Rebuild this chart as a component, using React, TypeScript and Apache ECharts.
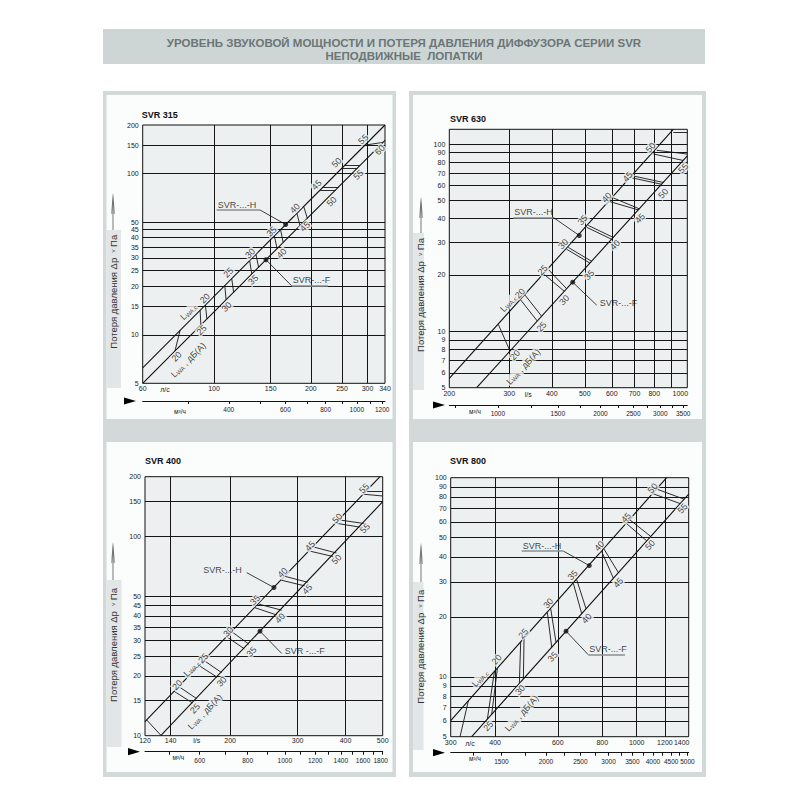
import React, { useEffect, useRef } from "react";
import * as echarts from "echarts";

type Pt = [number, number];
type Seg = [Pt, Pt];
type Lbl = [number, number, string];

// ---------------- SVR 315 ----------------
const svr315FlowRange: Pt = [60, 340];
const svr315PressureRange: Pt = [5, 200];
const svr315M3hRange: Pt = [216, 1224];
const svr315FlowLabels = [60, 100, 150, 200, 250, 300, 340];
const svr315FlowGrid = [100, 150, 200, 250, 300];
const svr315PressureLabels = [5, 10, 15, 20, 25, 30, 35, 40, 45, 50, 100, 150, 200];
const svr315PressureGrid = [10, 15, 20, 25, 30, 35, 40, 45, 50, 100, 150];
const svr315M3hLabels = [400, 600, 800, 1000, 1200];
const svr315M3hTicks = [300, 400, 500, 600, 700, 800, 900, 1000, 1100, 1200];
const svr315LineH: Pt[] = [[60, 6.23], [340, 200]];
const svr315LineF: Pt[] = [[60, 5], [340, 160.6]];
const svr315Hatches: Seg[] = [
  [[78.4, 10.63], [75.6, 7.94]],
  [[90.5, 14.17], [91, 11.5]], [[94, 15.29], [95, 12.53]],
  [[108, 20.18], [109, 16.5]], [[113.5, 22.29], [115, 18.37]],
  [[129, 28.79], [131, 23.83]], [[135, 31.53], [137.5, 26.26]],
  [[154, 41.03], [157, 34.24]], [[161, 44.85], [164, 37.36]],
  [[181, 56.68], [185, 47.53]], [[190, 62.46], [195, 52.81]],
  [[213.7, 79], [238.5, 79]], [[218.4, 82.5], [243.7, 82.5]],
  [[249.9, 108], [278.9, 108]], [[254.5, 112], [284, 112]],
  [[294.4, 150], [328.6, 150]], [[294.4, 150], [335, 156]],
];
const svr315LabelsH: Lbl[] = [
  [93.7, 16.8, "20"], [110.8, 24.3, "25"], [129.4, 32.0, "30"], [151, 43.6, "35"],
  [178.5, 60.9, "40"], [208.5, 84.9, "45"], [240.6, 116.8, "50"], [291, 163, "55"],
];
const svr315LabelsF: Lbl[] = [
  [76.5, 7.31, "20"], [91.5, 10.7, "25"], [109.5, 14.9, "30"], [132.4, 21.9, "35"],
  [162.3, 32.0, "40"], [191.8, 46.8, "45"], [232, 66.9, "50"], [280.9, 98, "55"], [328, 140, "60"],
];
const svr315LwcPos: Pt = [83.2, 13.9];
const svr315LwaPos: Pt = [83.2, 6.97];
const svr315Dots: Pt[] = [[167, 48.3], [145, 29.2]];
const svr315Leaders: Seg[] = [[[139, 59.4], [167, 48.3]], [[145, 29.2], [174.3, 20.1]]];
const svr315Underlines: Seg[] = [[[101.9, 59.4], [139, 59.4]], [[174.3, 20.1], [226, 20.1]]];
const svr315CalloutTexts: Lbl[] = [[101.9, 59.4, "SVR-...-H"], [174.3, 20.1, "SVR-...-F"]];

// ---------------- SVR 630 ----------------
const svr630FlowRange: Pt = [200, 1000];
const svr630PressureRange: Pt = [5, 120];
const svr630M3hRange: Pt = [720, 3600];
const svr630FlowLabels = [200, 300, 400, 500, 600, 700, 800, 900, 1000];
const svr630FlowGrid = [300, 400, 500, 600, 700, 800, 900];
const svr630PressureLabels = [5, 6, 7, 8, 9, 10, 20, 30, 40, 50, 60, 70, 80, 90, 100];
const svr630PressureGrid = [6, 7, 8, 9, 10, 20, 30, 40, 50, 60, 70, 80, 90, 100];
const svr630M3hLabels = [1000, 1500, 2000, 2500, 3000, 3500];
const svr630M3hTicks = [750, 1000, 1250, 1500, 1750, 2000, 2250, 2500, 2750, 3000, 3250, 3500];
const svr630LineH: Pt[] = [[200, 5.61], [909.6, 120]];
const svr630LineF: Pt[] = [[240.7, 5], [1000, 86.6]];
const svr630Hatches: Seg[] = [
  [[278.6, 10.89], [301.5, 7.85]],
  [[324, 14.72], [362.7, 11.35]], [[333.7, 15.62], [373.5, 12.04]],
  [[379.4, 20.19], [435.4, 16.36]], [[390.7, 21.41], [442.3, 16.88]],
  [[442.3, 27.44], [517.8, 23.14]], [[447.3, 28.06], [523.7, 23.67]],
  [[506.3, 35.95], [599.6, 31.03]], [[512, 36.77], [606.4, 31.74]],
  [[592.9, 49.3], [718, 44.5]], [[606.4, 51.57], [723, 45.11]],
  [[686.5, 66.1], [840.8, 61.01]], [[694.2, 67.59], [850.4, 62.41]],
  [[794.8, 88.6], [973.4, 81.77]], [[812.9, 92.68], [1000, 88.5]],
  [[909.7, 116.1], [1000, 116]],
];
const svr630LabelsH: Lbl[] = [
  [322.6, 15.95, "20"], [376, 21.25, "25"], [432.4, 29.25, "30"], [492.8, 39.3, "35"],
  [579.7, 51.9, "40"], [668, 66.9, "45"], [780.4, 96, "50"],
];
const svr630LabelsF: Lbl[] = [
  [311.9, 7.47, "20"], [373.5, 10.6, "25"], [435.4, 14.7, "30"], [515.6, 20.0, "35"],
  [613.3, 28.9, "40"], [726.2, 40.1, "45"], [850.4, 54.5, "50"], [973.4, 74.2, "55"],
];
const svr630LwcPos: Pt = [298, 14.1];
const svr630LwaPos: Pt = [330, 6.47];
const svr630Dots: Pt[] = [[481.7, 32.5], [460.7, 18.3]];
const svr630Leaders: Seg[] = [[[404, 40.6], [481.7, 32.5]], [[460.7, 18.3], [541.9, 13.8]]];
const svr630Underlines: Seg[] = [[[308.3, 40.6], [404, 40.6]]];
const svr630CalloutTexts: Lbl[] = [[308.3, 40.6, "SVR-...-H"], [541.9, 13.8, "SVR-...-F"]];

// ---------------- SVR 400 ----------------
const svr400FlowRange: Pt = [120, 500];
const svr400PressureRange: Pt = [10, 200];
const svr400M3hRange: Pt = [432, 1800];
const svr400FlowLabels = [120, 140, 200, 300, 400, 500];
const svr400FlowGrid = [140, 200, 300, 400];
const svr400PressureLabels = [10, 15, 20, 25, 30, 35, 40, 45, 50, 100, 150, 200];
const svr400PressureGrid = [15, 20, 25, 30, 35, 40, 45, 50, 100, 150];
const svr400M3hLabels = [600, 800, 1000, 1200, 1400, 1600, 1800];
const svr400M3hTicks = [500, 600, 700, 800, 900, 1000, 1100, 1200, 1300, 1400, 1500, 1600, 1700, 1800];
const svr400LineH: Pt[] = [[120, 11.76], [492, 200]];
const svr400LineF: Pt[] = [[131.9, 10], [500, 149.7]];
const svr400Hatches: Seg[] = [
  [[121.2, 12.0], [132.1, 10.03]],
  [[143, 16.7], [159.5, 14.62]], [[147, 17.65], [163.5, 15.37]],
  [[166, 22.5], [185, 19.67]], [[171, 23.88], [190, 20.75]],
  [[196, 31.4], [218, 27.3]], [[202, 33.3], [224, 28.8]],
  [[237, 45.87], [272.6, 42.71]], [[232, 43.96], [265, 40.36]],
  [[278.1, 63.16], [320, 58.86]], [[272, 60.42], [313.6, 56.53]],
  [[329.7, 88.77], [379.3, 82.69]], [[322, 84.67], [371.7, 79.41]],
  [[385.4, 121.3], [449.6, 116.2]], [[378, 116.7], [440, 111.3]],
  [[454.1, 168.4], [500, 168.4]], [[447, 163.2], [500, 160]],
];
const svr400LabelsH: Lbl[] = [
  [145.7, 17.98, "20"], [170.3, 24.5, "25"], [197.9, 33.3, "30"], [232.3, 48.0, "35"],
  [274.2, 65.9, "40"], [323.1, 89.7, "45"], [380.8, 123.5, "50"], [446.9, 174.8, "55"],
];
const svr400LabelsF: Lbl[] = [
  [162, 13.7, "25"], [190.2, 18.7, "30"], [227.7, 26.4, "35"], [269.9, 38.9, "40"],
  [318, 54.4, "45"], [379.3, 76.9, "50"], [449.6, 110, "55"],
];
const svr400LwcPos: Pt = [158.8, 21.8];
const svr400LwaPos: Pt = [172, 13.2];
const svr400Dots: Pt[] = [[260.3, 55.5], [239.3, 33.5]];
const svr400Leaders: Seg[] = [[[221, 65.9], [260.3, 55.5]], [[239.3, 33.5], [272.6, 25.9]]];
const svr400Underlines: Seg[] = [];
const svr400CalloutTexts: Lbl[] = [[221, 65.9, "SVR-...-H"], [272.6, 25.9, "SVR -...-F"]];

// ---------------- SVR 800 ----------------
const svr800FlowRange: Pt = [300, 1400];
const svr800PressureRange: Pt = [5, 100];
const svr800M3hRange: Pt = [1080, 5040];
const svr800FlowLabels = [300, 400, 600, 800, 1000, 1200, 1400];
const svr800FlowGrid = [400, 600, 800, 1000, 1200];
const svr800PressureLabels = [5, 6, 7, 8, 9, 10, 20, 30, 40, 50, 60, 70, 80, 90, 100];
const svr800PressureGrid = [6, 7, 8, 9, 10, 20, 30, 40, 50, 60, 70, 80, 90];
const svr800M3hLabels = [1500, 2000, 2500, 3000, 3500, 4000, 4500, 5000];
const svr800M3hTicks = [1250, 1500, 1750, 2000, 2250, 2500, 2750, 3000, 3250, 3500, 3750, 4000, 4250, 4500, 4750, 5000];
const svr800LineH: Pt[] = [[300, 6.02], [1214, 100]];
const svr800LineF: Pt[] = [[343.7, 5], [1400, 82.8]];
const svr800Hatches: Seg[] = [
  [[336.3, 7.57], [318.7, 5]],
  [[398, 10.6], [380.3, 6.12]], [[405.8, 11.0], [391.2, 6.48]],
  [[471.9, 14.9], [467.9, 9.27]], [[482.2, 15.55], [480.2, 9.76]],
  [[560.8, 21.04], [576.8, 14.08]], [[573.1, 21.97], [593.2, 14.89]],
  [[663.6, 29.46], [700.4, 20.76]], [[678.1, 30.76], [720.3, 21.96]],
  [[797.2, 42.51], [859.7, 31.28]], [[809.3, 43.81], [888, 33.38]],
  [[937.2, 58.75], [1066.7, 48.16]], [[957.7, 61.35], [1094.7, 50.72]],
  [[1113.8, 82.98], [1323.6, 74.15]], [[1143, 87.39], [1358, 78.06]],
];
const svr800LabelsH: Lbl[] = [
  [404, 12.2, "20"], [480.2, 16.5, "25"], [564.5, 23.4, "30"], [660.7, 32.4, "35"],
  [785.2, 45.4, "40"], [933.2, 63, "45"], [1109, 88.4, "50"],
];
const svr800LabelsF: Lbl[] = [
  [382.8, 5.65, "25"], [469.9, 8.58, "30"], [580.6, 12.6, "35"], [723.4, 19.6, "40"],
  [888, 29.7, "45"], [1090, 45.9, "50"], [1346, 70.1, "55"],
];
const svr800LwcPos: Pt = [362.7, 9.8];
const svr800LwaPos: Pt = [475, 6.55];
const svr800Dots: Pt[] = [[735.7, 36.2], [632.8, 16.95]];
const svr800Leaders: Seg[] = [[[621.7, 42.8], [735.7, 36.2]], [[632.8, 16.95], [731, 12.9]]];
const svr800Underlines: Seg[] = [[[475, 42.8], [621.7, 42.8]], [[731, 12.9], [926.9, 12.9]]];
const svr800CalloutTexts: Lbl[] = [[475, 42.8, "SVR-...-H"], [731, 12.9, "SVR-...-F"]];

const titleLine1 = "УРОВЕНЬ ЗВУКОВОЙ МОЩНОСТИ И ПОТЕРЯ ДАВЛЕНИЯ ДИФФУЗОРА СЕРИИ SVR";
const titleLine2 = "НЕПОДВИЖНЫЕ  ЛОПАТКИ";
const panelNames = ["SVR 315", "SVR 630", "SVR 400", "SVR 800"];
const flowUnits = ["л/с", "l/s", "l/s", "л/с"];
const m3hUnit = "м³/ч";
const yTitle = "Потеря давления Δр  {s|v} Па";

// ---------------- styling / layout ----------------
const FONT = "Liberation Sans";
const PLOT_BG = "#edf0f0";
const FRAME = "#d3d9d9";
const INNER = "#fbfcfc";

const panels = [
  {
    flow: svr315FlowRange, pres: svr315PressureRange, m3: svr315M3hRange,
    flowLabels: svr315FlowLabels, flowGrid: svr315FlowGrid, presLabels: svr315PressureLabels,
    presGrid: svr315PressureGrid, m3Labels: svr315M3hLabels, m3Ticks: svr315M3hTicks,
    lineH: svr315LineH, lineF: svr315LineF, hatches: svr315Hatches, labelsH: svr315LabelsH,
    labelsF: svr315LabelsF, lwc: svr315LwcPos, lwa: svr315LwaPos, dots: svr315Dots,
    leaders: svr315Leaders, underlines: svr315Underlines, callouts: svr315CalloutTexts,
  },
  {
    flow: svr630FlowRange, pres: svr630PressureRange, m3: svr630M3hRange,
    flowLabels: svr630FlowLabels, flowGrid: svr630FlowGrid, presLabels: svr630PressureLabels,
    presGrid: svr630PressureGrid, m3Labels: svr630M3hLabels, m3Ticks: svr630M3hTicks,
    lineH: svr630LineH, lineF: svr630LineF, hatches: svr630Hatches, labelsH: svr630LabelsH,
    labelsF: svr630LabelsF, lwc: svr630LwcPos, lwa: svr630LwaPos, dots: svr630Dots,
    leaders: svr630Leaders, underlines: svr630Underlines, callouts: svr630CalloutTexts,
  },
  {
    flow: svr400FlowRange, pres: svr400PressureRange, m3: svr400M3hRange,
    flowLabels: svr400FlowLabels, flowGrid: svr400FlowGrid, presLabels: svr400PressureLabels,
    presGrid: svr400PressureGrid, m3Labels: svr400M3hLabels, m3Ticks: svr400M3hTicks,
    lineH: svr400LineH, lineF: svr400LineF, hatches: svr400Hatches, labelsH: svr400LabelsH,
    labelsF: svr400LabelsF, lwc: svr400LwcPos, lwa: svr400LwaPos, dots: svr400Dots,
    leaders: svr400Leaders, underlines: svr400Underlines, callouts: svr400CalloutTexts,
  },
  {
    flow: svr800FlowRange, pres: svr800PressureRange, m3: svr800M3hRange,
    flowLabels: svr800FlowLabels, flowGrid: svr800FlowGrid, presLabels: svr800PressureLabels,
    presGrid: svr800PressureGrid, m3Labels: svr800M3hLabels, m3Ticks: svr800M3hTicks,
    lineH: svr800LineH, lineF: svr800LineF, hatches: svr800Hatches, labelsH: svr800LabelsH,
    labelsF: svr800LabelsF, lwc: svr800LwcPos, lwa: svr800LwaPos, dots: svr800Dots,
    leaders: svr800Leaders, underlines: svr800Underlines, callouts: svr800CalloutTexts,
  },
];

const layouts = [
  {
    grid: { left: 142.7, top: 125, width: 242.3, height: 258.3 }, m3Offset: 17.7, xMargin: 2,
    rotate: 45, lastShift: 0, m3LastShift: 0,
    calloutPos: ["above", "above"],
    title: [141.7, 115], yBox: [106.5, 230, 14.5, 158], yText: [113, 291.7], arrowX: 113, arrowTop: 193,
    tri: [124, 401], unitFlow: [165, 389], unitM3: [180, 411.7],
  },
  {
    grid: { left: 449.3, top: 129.3, width: 238, height: 258.4 }, m3Offset: 17.3, xMargin: 2.5,
    rotate: 47, lastShift: 7, m3LastShift: 0,
    calloutPos: ["above", "right"],
    title: [450, 119.3], yBox: [413, 233, 11, 157], yText: [420, 295], arrowX: 421, arrowTop: 197,
    tri: [433, 405], unitFlow: [528.3, 394.3], unitM3: [475, 411.7],
  },
  {
    grid: { left: 145, top: 476.7, width: 237.7, height: 259 }, m3Offset: 16, xMargin: 1.5,
    rotate: 46, lastShift: 0, m3LastShift: 2,
    calloutPos: ["left", "right"],
    title: [145, 460.7], yBox: [106.5, 580, 15, 167], yText: [113.3, 645], arrowX: 113, arrowTop: 542,
    tri: [128, 751.7], unitFlow: [196.7, 740.7], unitM3: [178.3, 757.3],
  },
  {
    grid: { left: 450.7, top: 477.7, width: 238, height: 259 }, m3Offset: 16, xMargin: 2.5,
    rotate: 48, lastShift: 7, m3LastShift: 0,
    calloutPos: ["above", "above"],
    title: [450, 460.7], yBox: [413, 582, 10.5, 168], yText: [420, 646.7], arrowX: 421, arrowTop: 543,
    tri: [433, 752.7], unitFlow: [470, 743.3], unitM3: [475, 758.3],
  },
];

const fmt = (v: number) => String(Math.round(v));

function lastLabelFormatter(values: number[], shift: number) {
  const last = values[values.length - 1];
  return (v: number) => {
    const s = fmt(v);
    if (shift > 0 && Math.abs(v - last) < last * 1e-6) return `{r|${s}}`;
    return s;
  };
}

function segData(segs: Seg[]) {
  return segs.map((s) => ({ coords: [s[0], s[1]] }));
}

function buildOption() {
  const grids: any[] = [];
  const xAxes: any[] = [];
  const yAxes: any[] = [];
  const series: any[] = [];
  const graphics: any[] = [];

  graphics.push(
    { type: "rect", z: -20, shape: { x: 103, y: 91, width: 293, height: 686 }, style: { fill: FRAME } },
    { type: "rect", z: -20, shape: { x: 409, y: 91, width: 297, height: 686 }, style: { fill: FRAME } },
    { type: "rect", z: -19, shape: { x: 106.5, y: 95, width: 286, height: 324 }, style: { fill: INNER } },
    { type: "rect", z: -19, shape: { x: 106.5, y: 442, width: 286, height: 330 }, style: { fill: INNER } },
    { type: "rect", z: -19, shape: { x: 413, y: 95, width: 289, height: 324 }, style: { fill: INNER } },
    { type: "rect", z: -19, shape: { x: 413, y: 442, width: 289, height: 330 }, style: { fill: INNER } },
    { type: "rect", z: -19, shape: { x: 103, y: 29, width: 602, height: 35 }, style: { fill: "#cdd5d5" } },
    {
      type: "text", z: 50, x: 404, y: 42.5,
      style: { text: titleLine1, fill: "#6b7676", font: `bold 11.5px "${FONT}"`, align: "center", verticalAlign: "middle" },
    },
    {
      type: "text", z: 50, x: 404, y: 56,
      style: { text: titleLine2, fill: "#6b7676", font: `bold 11.5px "${FONT}"`, align: "center", verticalAlign: "middle" },
    }
  );

  panels.forEach((d, i) => {
    const L = layouts[i];
    const xi = 2 * i;
    grids.push({
      ...L.grid, show: true, backgroundColor: PLOT_BG, borderColor: "#111", borderWidth: 1, containLabel: false,
    });
    xAxes.push({
      type: "log", gridIndex: i, min: d.flow[0], max: d.flow[1], position: "bottom",
      axisLine: { show: false, onZero: false }, axisTick: { show: false }, splitLine: { show: false },
      axisLabel: {
        customValues: d.flowLabels, fontSize: 7, margin: L.xMargin, color: "#222", fontFamily: FONT,
        showMinLabel: true, showMaxLabel: true,
        formatter: lastLabelFormatter(d.flowLabels, L.lastShift),
        rich: { r: { fontSize: 7, color: "#222", fontFamily: FONT, padding: [0, 2 * L.lastShift, 0, 0] } },
      },
    });
    xAxes.push({
      type: "log", gridIndex: i, min: d.m3[0], max: d.m3[1], position: "bottom", offset: L.m3Offset,
      axisLine: { show: true, onZero: false, lineStyle: { color: "#111", width: 1 } },
      axisTick: { show: true, customValues: d.m3Ticks, length: 3, lineStyle: { color: "#111", width: 1 } },
      splitLine: { show: false },
      axisLabel: {
        customValues: d.m3Labels, fontSize: 6.5, margin: 5, color: "#222", fontFamily: FONT,
        showMinLabel: true, showMaxLabel: true,
        formatter: lastLabelFormatter(d.m3Labels, L.m3LastShift),
        rich: { r: { fontSize: 6.5, color: "#222", fontFamily: FONT, padding: [0, 2 * L.m3LastShift, 0, 0] } },
      },
    });
    yAxes.push({
      type: "log", gridIndex: i, min: d.pres[0], max: d.pres[1],
      axisLine: { show: false, onZero: false }, axisTick: { show: false }, splitLine: { show: false },
      axisLabel: {
        customValues: d.presLabels, fontSize: 7, margin: 4, color: "#222", fontFamily: FONT, formatter: fmt,
        showMinLabel: true, showMaxLabel: true,
      },
    });

    const axisRef = { xAxisIndex: xi, yAxisIndex: i };
    const gridSegs: Seg[] = [
      ...d.flowGrid.map((x) => [[x, d.pres[0]], [x, d.pres[1]]] as Seg),
      ...d.presGrid.map((y) => [[d.flow[0], y], [d.flow[1], y]] as Seg),
    ];
    series.push({
      type: "lines", coordinateSystem: "cartesian2d", ...axisRef, z: 1, silent: true,
      lineStyle: { color: "#151515", width: 1, opacity: 1 }, data: segData(gridSegs),
    });
    series.push({
      type: "lines", coordinateSystem: "cartesian2d", ...axisRef, z: 3, silent: true,
      lineStyle: { color: "#151515", width: 0.9, opacity: 1 }, data: segData(d.hatches),
    });
    [d.lineH, d.lineF].forEach((ln) => {
      series.push({
        type: "line", ...axisRef, z: 4, symbol: "none", silent: true,
        lineStyle: { color: "#111", width: 1.1 }, data: ln,
      });
    });
    series.push({
      type: "lines", coordinateSystem: "cartesian2d", ...axisRef, z: 4, silent: true,
      lineStyle: { color: "#111", width: 0.8, opacity: 1 }, data: segData(d.leaders),
    });
    series.push({
      type: "lines", coordinateSystem: "cartesian2d", ...axisRef, z: 4, silent: true,
      lineStyle: { color: "#8a8f8f", width: 1.6, opacity: 1 }, data: segData(d.underlines),
    });
    series.push({
      type: "scatter", ...axisRef, z: 6, symbol: "circle", symbolSize: 5, silent: true,
      itemStyle: { color: "#111" }, data: d.dots,
    });
    const dbLabel = {
      show: true, position: "inside", formatter: "{b}", rotate: L.rotate, fontSize: 9, color: "#111",
      fontFamily: FONT, backgroundColor: PLOT_BG, padding: [0, 1],
    };
    [d.labelsH, d.labelsF].forEach((arr) => {
      series.push({
        type: "scatter", ...axisRef, z: 5, symbolSize: 0, silent: true, label: dbLabel,
        data: arr.map((l) => ({ value: [l[0], l[1]], name: l[2] })),
      });
    });
    const lwRich = {
      a: { fontSize: 9, color: "#111", fontFamily: FONT },
      b: { fontSize: 6, color: "#111", fontFamily: FONT, padding: [4, 0, 0, 0] },
    };
    series.push({
      type: "scatter", ...axisRef, z: 5, symbolSize: 0, silent: true,
      label: { ...dbLabel, formatter: "{a|L}{b|WA,c}", rich: lwRich, padding: [0, 1] },
      data: [{ value: d.lwc, name: "c" }],
    });
    series.push({
      type: "scatter", ...axisRef, z: 5, symbolSize: 0, silent: true,
      label: { ...dbLabel, formatter: "{a|L}{b|WA}{a| , дБ(А)}", rich: lwRich, padding: [0, 1] },
      data: [{ value: d.lwa, name: "a" }],
    });
    d.callouts.forEach((c, k) => {
      const pos = L.calloutPos[k];
      let label: any = { show: true, formatter: "{b}", fontSize: 9, color: "#111", fontFamily: FONT };
      if (pos === "above") label = { ...label, position: [1, -1], align: "left", verticalAlign: "bottom" };
      else if (pos === "right") label = { ...label, position: "right", distance: 3, offset: [0, -2] };
      else label = { ...label, position: "left", distance: 5, offset: [0, -3] };
      series.push({
        type: "scatter", ...axisRef, z: 6, symbolSize: 0, silent: true, label,
        data: [{ value: [c[0], c[1]], name: c[2] }],
      });
    });

    graphics.push(
      {
        type: "text", z: 50, x: L.title[0], y: L.title[1],
        style: { text: panelNames[i], fill: "#111", font: `bold 9px "${FONT}"`, align: "left", verticalAlign: "middle" },
      },
      {
        type: "rect", z: -5, shape: { x: L.yBox[0], y: L.yBox[1], width: L.yBox[2], height: L.yBox[3] },
        style: { fill: "#e2e6e6" },
      },
      {
        type: "text", z: 50, x: L.yText[0], y: L.yText[1], rotation: Math.PI / 2,
        style: {
          text: yTitle, fill: "#333", font: `9.5px "${FONT}"`, align: "center", verticalAlign: "middle",
          rich: { s: { fontSize: 6, fill: "#333", fontFamily: FONT } },
        },
      },
      {
        type: "line", z: 50, shape: { x1: L.arrowX, y1: L.arrowTop + 18, x2: L.arrowX, y2: L.yBox[1] },
        style: { stroke: "#777", lineWidth: 1 },
      },
      {
        type: "polygon", z: 50,
        shape: { points: [[L.arrowX - 2, L.arrowTop + 21], [L.arrowX, L.arrowTop], [L.arrowX + 2, L.arrowTop + 21]] },
        style: {
          fill: new echarts.graphic.LinearGradient(0, 0, 0, 1, [
            { offset: 0, color: "#333" }, { offset: 1, color: "#aaa" },
          ]),
        },
      },
      {
        type: "polygon", z: 50,
        shape: { points: [[L.tri[0], L.tri[1] - 3.6], [L.tri[0] + 12, L.tri[1]], [L.tri[0], L.tri[1] + 3.6]] },
        style: { fill: "#000" },
      },
      {
        type: "text", z: 50, x: L.unitFlow[0], y: L.unitFlow[1],
        style: { text: flowUnits[i], fill: "#222", font: `7px "${FONT}"`, align: "center", verticalAlign: "middle" },
      },
      {
        type: "text", z: 50, x: L.unitM3[0], y: L.unitM3[1],
        style: { text: m3hUnit, fill: "#222", font: `6.5px "${FONT}"`, align: "center", verticalAlign: "middle" },
      }
    );
  });

  return {
    animation: false,
    backgroundColor: "#ffffff",
    textStyle: { fontFamily: FONT },
    grid: grids,
    xAxis: xAxes,
    yAxis: yAxes,
    series,
    graphic: { elements: graphics },
  };
}

export default function App() {
  const ref = useRef<HTMLDivElement>(null);
  useEffect(() => {
    if (!ref.current) return;
    const chart = echarts.init(ref.current, undefined, { renderer: "svg" });
    chart.setOption(buildOption() as any);
    return () => chart.dispose();
  }, []);
  return (
    <div
      ref={ref}
      style={{ position: "fixed", left: 0, top: 0, width: 808, height: 808, background: "#fff" }}
    />
  );
}
